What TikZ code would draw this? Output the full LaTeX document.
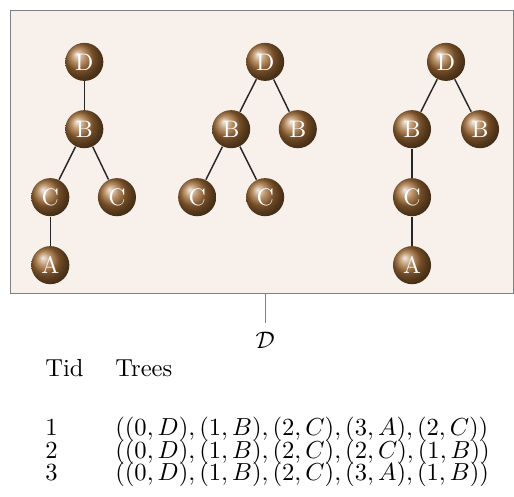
\documentclass[tikz,border=0pt]{standalone}
\usetikzlibrary{shadings}
\definecolor{paper}{RGB}{247,240,235}
\newcommand{\cellbox}[1]{\scalebox{1.03}{#1}}
\begin{document}
\begin{tikzpicture}
\tikzstyle{vtx}=[circle,shading=ball,ball color=brown!85!black,text=white,minimum size=0.56cm,inner sep=0pt]
\tikzstyle{edge}=[draw=black!85,semithick]
\tikzstyle{cell}=[anchor=base west,inner sep=0pt]
\useasboundingbox (0,0) rectangle (7.56,-7.31);
\draw[gray,fill=paper] (0.15,-0.16) rectangle (7.55,-4.31);
% tree 1
\node[vtx] (d1) at (1.24,-0.91) {D};
\node[vtx] (b1) at (1.24,-1.9) {B};
\node[vtx] (c1) at (0.74,-2.9) {C};
\node[vtx] (c2) at (1.72,-2.9) {C};
\node[vtx] (a1) at (0.74,-3.9) {A};
\draw[edge] (d1) -- (b1);
\draw[edge] (b1) -- (c1);
\draw[edge] (b1) -- (c2);
\draw[edge] (c1) -- (a1);
% tree 2
\node[vtx] (d2) at (3.9,-0.91) {D};
\node[vtx] (b2) at (3.4,-1.9) {B};
\node[vtx] (b3) at (4.38,-1.9) {B};
\node[vtx] (c3) at (2.9,-2.9) {C};
\node[vtx] (c4) at (3.9,-2.9) {C};
\draw[edge] (d2) -- (b2);
\draw[edge] (d2) -- (b3);
\draw[edge] (b2) -- (c3);
\draw[edge] (b2) -- (c4);
% tree 3
\node[vtx] (d3) at (6.56,-0.91) {D};
\node[vtx] (b4) at (6.06,-1.9) {B};
\node[vtx] (b5) at (7.06,-1.9) {B};
\node[vtx] (c5) at (6.06,-2.9) {C};
\node[vtx] (a2) at (6.06,-3.9) {A};
\draw[edge] (d3) -- (b4);
\draw[edge] (d3) -- (b5);
\draw[edge] (b4) -- (c5);
\draw[edge] (c5) -- (a2);
% database
\coordinate (top) at (3.9,-4.31);
\node (db) at (3.9,-5.0) {$\mathcal{D}$};
\draw[gray] (top) -- (db);
\node[cell] (tid) at (0.66,-5.54) {\cellbox{Tid}};
\node[cell] (trees) at (1.69,-5.54) {\cellbox{Trees}};
\node[cell] (n1) at (0.66,-6.4) {\cellbox{1}};
\node[cell] (n2) at (0.66,-6.74) {\cellbox{2}};
\node[cell] (n3) at (0.66,-7.07) {\cellbox{3}};
\node[cell] (t1) at (1.69,-6.4) {\cellbox{$((0,D),(1,B),(2,C),(3,A),(2,C))$}};
\node[cell] (t2) at (1.69,-6.74) {\cellbox{$((0,D),(1,B),(2,C),(2,C),(1,B))$}};
\node[cell] (t3) at (1.69,-7.07) {\cellbox{$((0,D),(1,B),(2,C),(3,A),(1,B))$}};
\end{tikzpicture}
\end{document}
